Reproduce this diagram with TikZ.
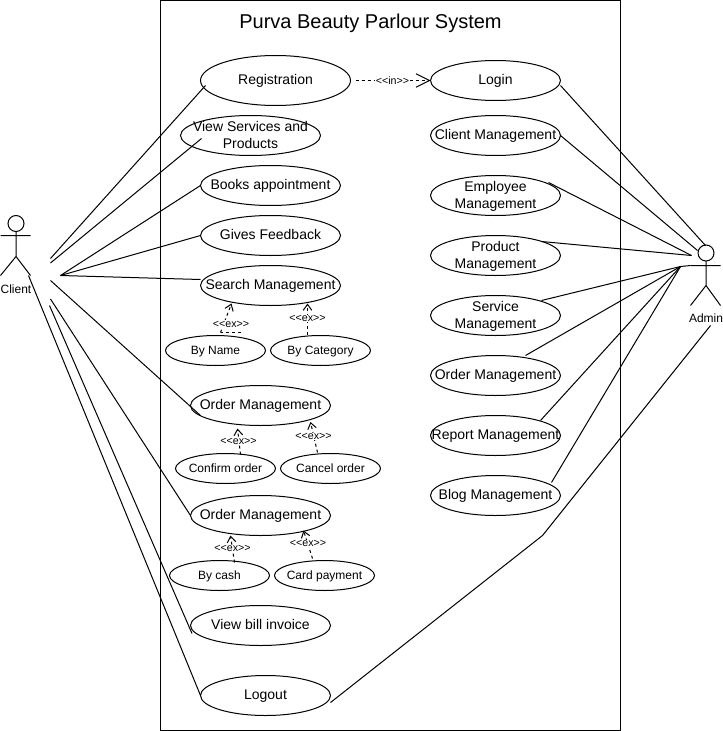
\documentclass[tikz,border=0pt]{standalone}
\usepackage{fontspec}
\setmainfont{Liberation Sans}
\usetikzlibrary{arrows.meta,shapes.geometric}
\newcommand\uctext[1]{\raisebox{-7.1pt}{\smash{\makebox[0pt][c]{\fontsize{10.5}{12.75}\selectfont\begin{tabular}{@{}c@{}}#1\end{tabular}}}}}
\newcommand\ucsmall[1]{\raisebox{-5.6pt}{\smash{\makebox[0pt][c]{\fontsize{9}{12.75}\selectfont\begin{tabular}{@{}c@{}}#1\end{tabular}}}}}
\tikzset{
  x=0.75pt,y=-0.75pt,
  every path/.style={line width=0.75pt},
  uc/.style={ellipse,draw,inner sep=0pt,outer sep=0pt,minimum width=140*0.75pt,minimum height=40*0.75pt},
  ucs/.style={uc,minimum width=100*0.75pt,minimum height=30*0.75pt},
  assoc/.style={draw,line width=0.75pt},
  dep/.style={draw,line width=0.75pt,dash pattern=on 2.25pt off 2.25pt,-{Straight Barb[length=4.5pt,width=6.5pt,line width=0.75pt]}},
  depbig/.style={draw,line width=0.75pt,dash pattern=on 2.25pt off 2.25pt,-{Straight Barb[length=10pt,width=10pt,line width=0.75pt]}},
  tag/.style={fill=white,inner sep=0.5pt,font=\fontsize{8}{9}\selectfont},
  actorname/.style={inner sep=0pt,font=\fontsize{9}{11}\selectfont},
  head/.style={circle,draw,inner sep=0pt,outer sep=0pt,minimum size=16*0.75pt},
}
\begin{document}
\begin{tikzpicture}
\useasboundingbox (-0.5,-0.5) rectangle (722.5,730.5);
\fill[white] (-0.5,-0.5) rectangle (722.5,730.5);
\node[draw,minimum width=460*0.75pt,minimum height=730*0.75pt,inner sep=0pt,outer sep=0pt] (sys) at (390,365) {};
\node[inner sep=0pt,font=\fontsize{15}{18}\selectfont] (title) at (370,23) {Purva Beauty Parlour System};

% left column
\node[uc,minimum width=150*0.75pt,minimum height=50*0.75pt] (reg) at (275,80) {\uctext{Registration}};
\node[uc] (view) at (250,135) {\uctext{View Services and\\Products}};
\node[uc] (book) at (270,185) {\uctext{Books appointment}};
\node[uc] (feed) at (270,235) {\uctext{Gives Feedback}};
\node[uc] (search) at (270,285) {\uctext{Search Management}};
\node[ucs] (byname) at (215,350) {\ucsmall{By Name}};
\node[ucs] (bycat) at (320,350) {\ucsmall{By Category}};
\node[uc] (orderA) at (260,405) {\uctext{Order Management}};
\node[ucs] (confirm) at (225,468) {\ucsmall{Confirm order}};
\node[ucs] (cancel) at (330,468) {\ucsmall{Cancel order}};
\node[uc] (orderB) at (260,515) {\uctext{Order Management}};
\node[ucs] (cash) at (219,575) {\ucsmall{By cash}};
\node[ucs] (card) at (324,575) {\ucsmall{Card payment}};
\node[uc] (bill) at (260,625) {\uctext{View bill invoice}};
\node[uc,minimum width=130*0.75pt] (logout) at (265,695) {\uctext{Logout}};

% right column
\node[uc,minimum width=130*0.75pt] (login) at (495,80) {\uctext{Login}};
\node[uc,minimum width=130*0.75pt] (mclient) at (495,135) {\uctext{Client Management}};
\node[uc,minimum width=130*0.75pt] (memp) at (495,195) {\uctext{Employee\\Management}};
\node[uc,minimum width=130*0.75pt] (mprod) at (495,255) {\uctext{Product\\Management}};
\node[uc,minimum width=130*0.75pt] (mserv) at (495,315) {\uctext{Service\\Management}};
\node[uc,minimum width=130*0.75pt] (morder) at (495,375) {\uctext{Order Management}};
\node[uc,minimum width=130*0.75pt] (mrep) at (495,435) {\uctext{Report Management}};
\node[uc,minimum width=130*0.75pt] (mblog) at (495,495) {\uctext{Blog Management}};

% client actor
\node[head] (chead) at (15.5,223) {};
\coordinate (carmL) at (0,235);
\coordinate (carmR) at (30,235);
\coordinate (chip) at (15.5,256);
\coordinate (clegL) at (0,275);
\coordinate (clegR) at (30,275);
\draw (chead.south) -- (chip) (carmL) -- (carmR) (clegL) -- (chip) -- (clegR);
\node[actorname] (clientname) at (15.5,289) {Client};

% admin actor
\node[head] (ahead) at (705.5,252.5) {};
\coordinate (aarmL) at (690,265);
\coordinate (aarmR) at (720,265);
\coordinate (ahip) at (705.5,285);
\coordinate (alegL) at (690,305);
\coordinate (alegR) at (720,305);
\draw (ahead.south) -- (ahip) (aarmL) -- (aarmR) (alegL) -- (ahip) -- (alegR);
\node[actorname] (adminname) at (705.5,318) {Admin};

% client ends
\coordinate (c1) at (50,258);
\coordinate (c2) at (50,262.5);
\coordinate (c3) at (60,275);
\coordinate (c4) at (50,280);
\coordinate (c5) at (50,298.5);
\coordinate (c6) at (49,305);
\coordinate (c7) at (28,275);
\path[assoc] (c1) -- ([shift={(-70,5)}]reg.center);
\path[assoc] (c2) -- ([shift={(-49,3)}]view.center);
\path[assoc] (c3) -- (book.west);
\path[assoc] (c3) -- (feed.west);
\path[assoc] (c3) -- ([shift={(-70,-6)}]search.center);
\path[assoc] (c4) -- ([shift={(-60,10)}]orderA.center);
\path[assoc] (c5) -- (orderB.west);
\path[assoc] (c6) -- ([shift={(-68.5,8)}]bill.center);
\path[assoc] (c7) -- (logout.west);

% admin ends
\coordinate (a1) at (705,245);
\coordinate (a2) at (697,250);
\coordinate (a3) at (691,255);
\coordinate (a4) at (680,266);
\coordinate (a5) at (710,325);
\coordinate (bend) at (542,535);
\path[assoc] ([shift={(65,5)}]login.center) -- (a1);
\path[assoc] (mclient.east) -- (a2);
\path[assoc] ([shift={(53,-13)}]memp.center) -- (a3);
\path[assoc] ([shift={(46,-14)}]mprod.center) -- (a3);
\path[assoc] ([shift={(46,-15)}]mserv.center) -- (a4) -- (aarmL);
\path[assoc] ([shift={(30,-20)}]morder.center) -- (a4);
\path[assoc] ([shift={(45,-15)}]mrep.center) -- (a4);
\path[assoc] ([shift={(56,-13)}]mblog.center) -- (a4);
\path[assoc] ([shift={(65,7)}]logout.center) -- (bend) -- (a5);

% dependencies
\path[depbig] ([xshift=5*0.75pt]reg.east) -- (login.west);
\node[tag] (tagin) at (392,80.5) {<{}<in>{}>};

\path[draw,line width=0.75pt,dash pattern=on 2.25pt off 2.25pt] ([shift={(25,-18)}]byname.center) -- ([shift={(5,-18)}]byname.center);
\path[dep] ([shift={(5,-18)}]byname.center) -- ([shift={(-39,18)}]search.center);
\node[tag] (tagA) at (230.5,323.5) {<{}<ex>{}>};
\path[dep] ([shift={(-13,-16)}]bycat.center) -- ([shift={(37,18)}]search.center);
\node[tag] (tagB) at (307,318) {<{}<ex>{}>};
\path[dep] ([shift={(15,-14)}]confirm.center) -- ([shift={(-23,23)}]orderA.center);
\node[tag] (tagC) at (238,441) {<{}<ex>{}>};
\path[dep] ([shift={(-13,-16)}]cancel.center) -- ([shift={(50,16.5)}]orderA.center);
\node[tag] (tagD) at (313,436) {<{}<ex>{}>};
\path[dep] ([shift={(15,-13)}]cash.center) -- ([shift={(-30,20)}]orderB.center);
\node[tag] (tagE) at (232,548) {<{}<ex>{}>};
\path[dep] ([shift={(-12,-17)}]card.center) -- ([shift={(43,15)}]orderB.center);
\node[tag] (tagF) at (307.5,543) {<{}<ex>{}>};
\end{tikzpicture}
\end{document}
